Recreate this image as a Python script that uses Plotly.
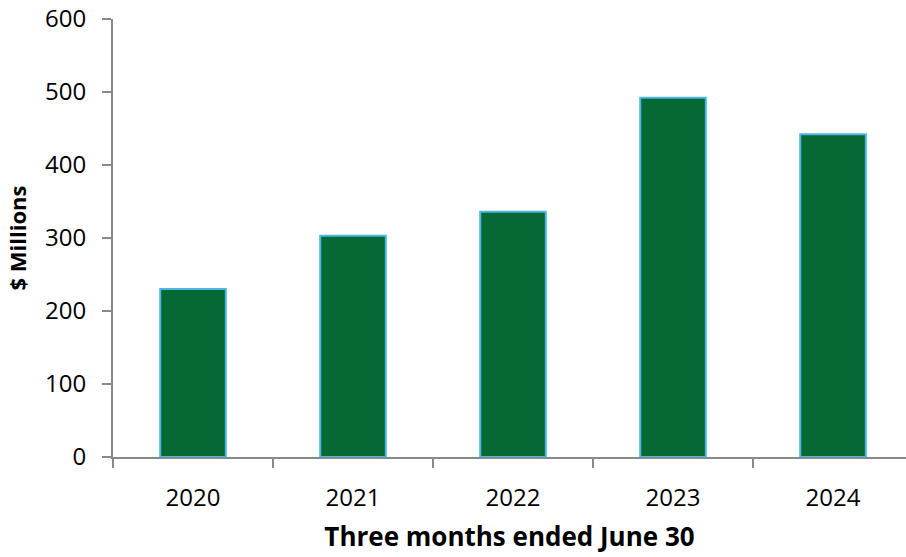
import plotly.graph_objects as go

years = ["2020", "2021", "2022", "2023", "2024"]
values = [230, 303, 336, 492, 442]

fig = go.Figure(go.Bar(
    x=years, y=values,
    width=0.41,
    marker=dict(color="#066935", line=dict(color="#4cb6e4", width=2)),
))

font = "Open Sans"
fig.update_layout(
    width=906, height=557,
    margin=dict(l=113, r=0, t=19, b=100),
    plot_bgcolor="white", paper_bgcolor="white",
    showlegend=False,
    font=dict(family=font, color="#000000"),
)
fig.update_xaxes(
    type="category",
    range=[-0.5, 4.456],
    showline=True, linecolor="#898989", linewidth=2,
    ticks="outside", tickson="boundaries", ticklen=9, tickcolor="#898989", tickwidth=2,
    tickfont=dict(size=24, family=font),
    ticklabelstandoff=18,
    title=dict(text="<b>Three months ended June 30</b>", font=dict(size=26, family=font), standoff=16),
    showgrid=False,
)
fig.update_yaxes(
    range=[0, 600], dtick=100,
    showline=True, linecolor="#898989", linewidth=2,
    ticks="outside", ticklen=9, tickcolor="#898989", tickwidth=2,
    tickfont=dict(size=24, family=font),
    ticklabelstandoff=11,
    title=dict(text="<b>$ Millions</b>", font=dict(size=22, family=font), standoff=12),
    showgrid=False, zeroline=False,
)
fig.write_html("out.html")
